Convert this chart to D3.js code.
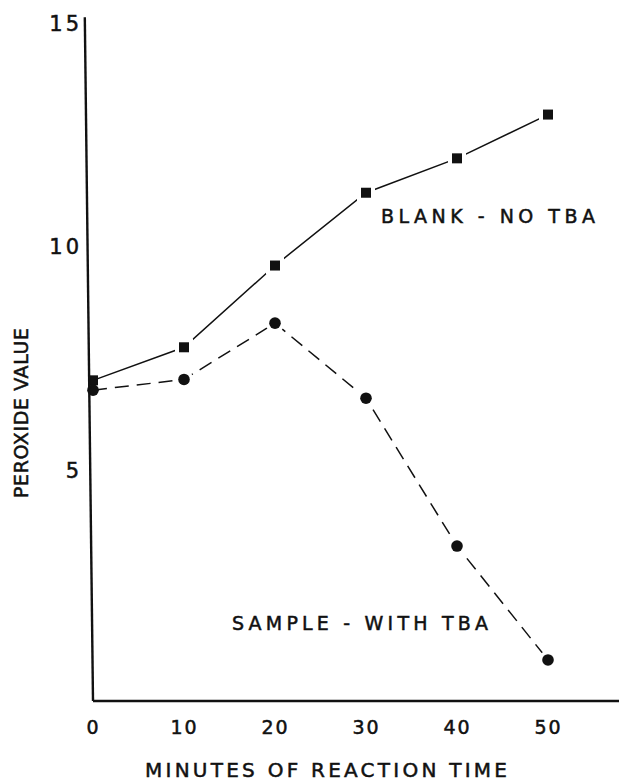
<!DOCTYPE html>
<html>
<head>
<meta charset="utf-8">
<script src="https://cdn.jsdelivr.net/npm/d3@7"></script>
<style>
html,body{margin:0;padding:0;background:#fff;}
svg{display:block;}
</style>
</head>
<body>
<script>
const minutes = [0, 10, 20, 30, 40, 50];
const blankValues = [7.0, 7.74, 9.57, 11.2, 11.97, 12.95];
const sampleValues = [6.78, 7.02, 8.28, 6.6, 3.29, 0.74];
const xTickValues = [0, 10, 20, 30, 40, 50];
const yTickValues = [5, 10, 15];
const blankLabel = "BLANK - NO TBA";
const sampleLabel = "SAMPLE - WITH TBA";
const xTitle = "MINUTES OF REACTION TIME";
const yTitle = "PEROXIDE VALUE";

const W = 619, H = 783;
const FONT = "'DejaVu Sans', 'Liberation Sans', sans-serif";
const svg = d3.select("body").append("svg").attr("width", W).attr("height", H);

const x = d3.scaleLinear().domain([0, 50]).range([93, 548]);
const y = d3.scaleLinear().domain([0, 15]).range([693, 23]);

const blank = minutes.map((m, i) => ({m, v: blankValues[i]}));
const sample = minutes.map((m, i) => ({m, v: sampleValues[i]}));

const line = d3.line().x(d => x(d.m)).y(d => y(d.v));

svg.append("path").datum(blank).attr("d", line)
  .attr("fill", "none").attr("stroke", "#111").attr("stroke-width", 1.5);
svg.append("path").datum(sample).attr("d", line)
  .attr("fill", "none").attr("stroke", "#111").attr("stroke-width", 1.5)
  .attr("stroke-dasharray", "14,8");

// white halos to create gaps between lines and markers
const halo = svg.append("g");
halo.selectAll("rect").data(blank.filter(d => d.m > 0)).join("rect")
  .attr("x", d => x(d.m) - 9).attr("y", d => y(d.v) - 9)
  .attr("width", 18).attr("height", 18).attr("fill", "#fff");
halo.selectAll("circle").data(sample.filter(d => d.m > 0)).join("circle")
  .attr("cx", d => x(d.m)).attr("cy", d => y(d.v)).attr("r", 9.5).attr("fill", "#fff");

svg.append("g").selectAll("rect").data(blank).join("rect")
  .attr("x", d => x(d.m) - 5).attr("y", d => y(d.v) - 5)
  .attr("width", 10).attr("height", 10).attr("fill", "#111");
svg.append("g").selectAll("circle").data(sample).join("circle")
  .attr("cx", d => x(d.m)).attr("cy", d => y(d.v)).attr("r", 5.8).attr("fill", "#111");

// axes lines
const yBase = y(-0.18);
svg.append("line")
  .attr("x1", x(0)).attr("x2", W).attr("y1", yBase).attr("y2", yBase)
  .attr("stroke", "#111").attr("stroke-width", 2.4);
svg.append("line")
  .attr("x1", x(-0.9)).attr("y1", y(15.13)).attr("x2", x(0)).attr("y2", yBase)
  .attr("stroke", "#111").attr("stroke-width", 2.4);

function styleText(sel, size) {
  sel.style("font-family", FONT).style("font-size", size + "px")
    .style("fill", "#111").style("stroke", "#111").style("stroke-width", "0.5px");
}

// x tick labels
const xAxis = d3.axisBottom(x).tickValues(xTickValues).tickSize(0).tickPadding(0).tickFormat(d3.format("d"));
const gx = svg.append("g").attr("transform", `translate(0,${yBase})`).call(xAxis);
gx.select(".domain").remove();
gx.selectAll("text").attr("y", 26).attr("dy", "0.36em").style("letter-spacing", "2px")
  .call(styleText, 19);

// y tick labels
const yAxis = d3.axisLeft(y).tickValues(yTickValues).tickSize(0).tickPadding(0).tickFormat(d3.format("d"));
const gy = svg.append("g").attr("transform", `translate(${x(0) - 11},0)`).call(yAxis);
gy.select(".domain").remove();
gy.selectAll("text").attr("x", 0).attr("dy", "0.36em").style("letter-spacing", "3px")
  .call(styleText, 21);

// series labels
svg.append("text").attr("x", 381).attr("y", 216).attr("dy", "0.36em")
  .attr("textLength", 214).attr("lengthAdjust", "spacing")
  .call(styleText, 19).text(blankLabel);
svg.append("text").attr("x", 232).attr("y", 623).attr("dy", "0.36em")
  .attr("textLength", 256).attr("lengthAdjust", "spacing")
  .call(styleText, 19).text(sampleLabel);

// axis titles
svg.append("text").attr("x", 145).attr("y", 770).attr("dy", "0.36em")
  .attr("textLength", 362).attr("lengthAdjust", "spacing")
  .call(styleText, 20).text(xTitle);
svg.append("text").attr("transform", "translate(21,413) rotate(-90)")
  .attr("text-anchor", "middle").attr("dy", "0.36em")
  .attr("textLength", 170).attr("lengthAdjust", "spacing")
  .call(styleText, 19).text(yTitle);
</script>
</body>
</html>
